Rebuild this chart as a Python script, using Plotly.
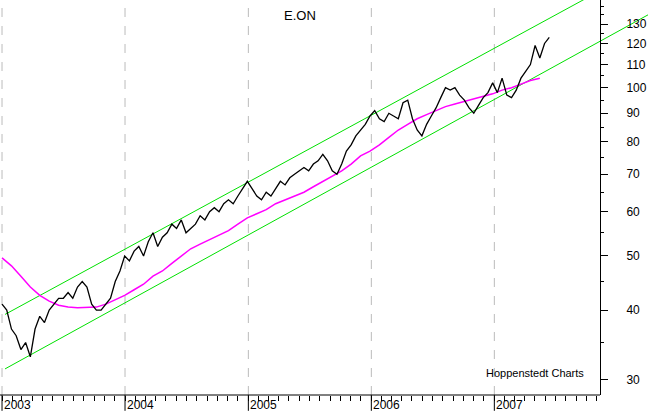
import pandas as pd
import plotly.graph_objects as go

## Data
# E.ON closing prices, every 2 weeks from Jan 2003
price_2003 = [41, 40, 37, 36, 34, 35, 33, 37, 39, 38, 40, 41, 42, 42, 43, 42, 44, 45, 44, 41, 40, 40, 41, 42, 45, 47]
price_2004 = [50, 49, 51, 52, 50, 53, 55, 52, 54, 55, 57, 56, 58, 55, 56, 57, 59, 58, 60, 61, 60, 62, 63, 62, 64, 66]
price_2005 = [68, 66, 64, 63, 65, 64, 66, 68, 67, 69, 70, 71, 72, 71, 73, 74, 76, 74, 71, 70, 73, 77, 79, 82, 84, 86]
price_2006 = [89, 91, 88, 87, 90, 89, 88, 94, 95, 88, 84, 82, 86, 89, 92, 96, 100, 99, 100, 97, 95, 92, 90, 93, 96, 98]
price_2007 = [102, 98, 104, 97, 96, 99, 104, 107, 110, 119, 113, 120, 123]
prices = price_2003 + price_2004 + price_2005 + price_2006 + price_2007

# moving average, every 4 weeks
ma_values = [49.6, 48, 46, 44, 42.5, 41.5, 40.8, 40.5, 40.4, 40.4, 40.5, 41, 41.8,
             42.5, 43.5, 44.5, 46, 47, 48.5, 50, 51.5, 52.5, 53.5, 54.5, 55.5, 57,
             58.5, 59.5, 60.5, 62, 63, 64, 65, 66.5, 68, 69.5, 71, 73, 75.5,
             77, 79, 81.5, 84, 86, 88, 89.5, 91, 92.5, 93.5, 94.5, 95.5, 96.5,
             97.5, 99, 100, 101.5, 103, 104]

# trend channel end points
channel_dates = ["2003-01-10", "2008-04-01"]
channel_upper = [39.3, 166]
channel_lower = [31.4, 135]

years = ["2003", "2004", "2005", "2006", "2007"]
y_ticks = [30, 40, 50, 60, 70, 80, 90, 100, 110, 120, 130]
y_minor = [35, 45, 55, 65, 75, 85, 95, 105, 115, 125, 135, 140]

price_dates = pd.date_range("2003-01-01", periods=len(prices), freq="14D")
ma_dates = pd.date_range("2003-01-01", periods=len(ma_values), freq="28D")
month_ticks = pd.date_range("2003-01-01", "2007-11-01", freq="MS")

## Chart
fig = go.Figure()
for vals in [channel_upper, channel_lower]:
    fig.add_trace(go.Scatter(x=channel_dates, y=vals, mode="lines",
                             line=dict(color="#00e000", width=1)))
fig.add_trace(go.Scatter(x=ma_dates, y=ma_values, mode="lines",
                         line=dict(color="#ff00ff", width=1.5)))
fig.add_trace(go.Scatter(x=price_dates, y=prices, mode="lines",
                         line=dict(color="black", width=1.3)))

AX = 600 / 648
shapes = [dict(type="line", xref="paper", yref="paper", x0=0, x1=AX, y0=0, y1=0,
               line=dict(color="black", width=1))]
for yr in years:
    shapes.append(dict(type="line", xref="x", yref="paper", x0=yr + "-01-01", x1=yr + "-01-01",
                       y0=0, y1=1, line=dict(color="#bbbbbb", width=1, dash="dash"), layer="below"))
    shapes.append(dict(type="line", xref="x", yref="paper", x0=yr + "-01-01", x1=yr + "-01-01",
                       y0=0, y1=-0.04, line=dict(color="black", width=1)))

annotations = [dict(x=yr + "-01-01", y=0, xref="x", yref="paper", text=yr, showarrow=False,
                    xanchor="left", yanchor="top", xshift=0, yshift=-1,
                    font=dict(size=12, color="black")) for yr in years]
annotations.append(dict(x=0.463, y=0.985, xref="paper", yref="paper", text="E.ON", showarrow=False,
                        xanchor="center", yanchor="top", font=dict(size=13, color="black")))
annotations.append(dict(x=0.826, y=0.035, xref="paper", yref="paper", text="Hoppenstedt Charts",
                        showarrow=False, xanchor="center", yanchor="bottom",
                        font=dict(size=11, color="black")))

fig.update_layout(
    width=648, height=413,
    margin=dict(l=0, r=0, t=0, b=18, autoexpand=False),
    paper_bgcolor="white", plot_bgcolor="white",
    showlegend=False,
    font=dict(family="Liberation Sans, Arial", color="black"),
    xaxis=dict(range=["2002-12-26", "2008-04-01"], domain=[0, 1], showgrid=False, automargin=False,
               showline=False, zeroline=False, tickvals=month_ticks, showticklabels=False,
               ticks="outside", ticklen=5, tickcolor="black"),
    yaxis=dict(type="log", range=[1.4502, 2.1569], anchor="free", position=AX, side="right",
               showgrid=False, showline=True, linecolor="black", zeroline=False, automargin=False,
               tickvals=y_ticks, ticks="outside", ticklen=7, tickcolor="black",
               ticklabelstandoff=16, tickfont=dict(size=12),
               minor=dict(tickvals=y_minor, ticks="outside", ticklen=3, tickcolor="black")),
    shapes=shapes, annotations=annotations,
)

# drop the browser's default page margin so the chart sits at the top-left corner
fig.write_html("out.html", config={"displayModeBar": False},
               post_script="document.body.style.margin='0';")
